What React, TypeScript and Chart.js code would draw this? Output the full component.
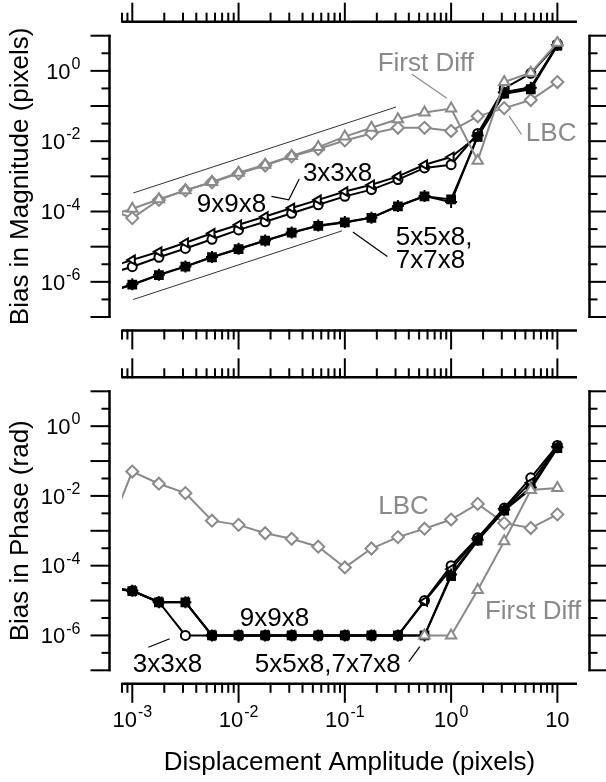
import React, { useEffect, useRef } from "react";
import { Chart, registerables } from "chart.js";

Chart.register(...registerables);

// ---------- data ----------
// Displacement amplitude (pixels). The first point lies just left of the visible axis range.
const amplitude = [0.000562, 0.001, 0.00178, 0.00316, 0.00562, 0.01, 0.0178, 0.0316, 0.0562, 0.1, 0.178, 0.316, 0.562, 1, 1.78, 3.16, 5.62, 10];

// Bias in magnitude (pixels)
const magFirstDiff = [7.1e-5, 1.2e-4, 2.24e-4, 4.0e-4, 6.9e-4, 1.26e-3, 2.14e-3, 3.8e-3, 6.8e-3, 0.0135, 0.024, 0.042, 0.065, 0.085, 0.0028, 0.48, 0.89, 6.3];
const magLBC = [1.26e-4, 6.5e-5, 2.14e-4, 4.0e-4, 6.8e-4, 1.2e-3, 2.04e-3, 3.7e-3, 6.0e-3, 0.0105, 0.0166, 0.024, 0.024, 0.0195, 0.051, 0.087, 0.148, 0.48];
const mag3x3x8 = [1.58e-6, 2.69e-6, 5.0e-6, 8.9e-6, 1.62e-5, 3.0e-5, 5.1e-5, 8.9e-5, 1.55e-4, 2.7e-4, 4.2e-4, 8.1e-4, 1.74e-3, 2.14e-3, 0.0166, 0.316, 0.85, 5.75];
const mag9x9x8 = [2.4e-6, 4.2e-6, 7.2e-6, 1.29e-5, 2.4e-5, 4.2e-5, 7.2e-5, 1.26e-4, 2.14e-4, 3.7e-4, 5.75e-4, 1.0e-3, 2.14e-3, 3.55e-3, 0.0141, 0.25, 0.34, 5.5];
const mag5x5x8 = [4.7e-7, 8.3e-7, 1.55e-6, 2.7e-6, 5.0e-6, 8.5e-6, 1.48e-5, 2.5e-5, 3.9e-5, 4.9e-5, 6.6e-5, 1.41e-4, 2.7e-4, 2.2e-4, 0.0132, 0.224, 0.3, 5.25];
const mag7x7x8 = [4.9e-7, 8.5e-7, 1.6e-6, 2.75e-6, 5.1e-6, 8.7e-6, 1.5e-5, 2.55e-5, 4.0e-5, 5.0e-5, 6.7e-5, 1.43e-4, 2.75e-4, 1.85e-4, 0.0145, 0.24, 0.33, 5.4];

// Slope-one guide lines in the magnitude panel
const guideUpperX = [0.00102, 0.303];
const guideUpperY = [3.36e-4, 0.0936];
const guideLowerX = [0.00102, 0.0938];
const guideLowerY = [3.14e-7, 2.81e-5];

// Bias in phase (rad)
const phFirstDiff = [null, null, null, null, null, null, null, null, null, null, null, null, 1e-6, 1e-6, 2.0e-5, 5.0e-4, 0.0148, 0.017];
const phLBC = [6.3e-4, 0.05, 0.0224, 0.012, 0.00195, 0.00148, 8.5e-4, 5.9e-4, 3.5e-4, 8.9e-5, 3.1e-4, 6.6e-4, 1.15e-3, 2.1e-3, 5.9e-3, 1.66e-3, 1.2e-3, 2.95e-3];
const ph3x3x8 = [2.5e-5, 1.9e-5, 9.1e-6, 1e-6, 1e-6, 1e-6, 1e-6, 1e-6, 1e-6, 1e-6, 1e-6, 1e-6, 1e-5, 1e-4, 6.3e-4, 4.5e-3, 0.033, 0.28];
const ph9x9x8 = [2.5e-5, 1.9e-5, 9.1e-6, 9.1e-6, 1e-6, 1e-6, 1e-6, 1e-6, 1e-6, 1e-6, 1e-6, 1e-6, 9.5e-6, 8e-5, 6e-4, 4.3e-3, 0.024, 0.26];
const ph5x5x8 = [2.4e-5, 1.86e-5, 8.9e-6, 8.9e-6, 1e-6, 1e-6, 1e-6, 1e-6, 1e-6, 1e-6, 1e-6, 1e-6, 1e-6, 5e-5, 5.2e-4, 3.8e-3, 0.0158, 0.234];
const ph7x7x8 = [2.4e-5, 1.9e-5, 9e-6, 9e-6, 1e-6, 1e-6, 1e-6, 1e-6, 1e-6, 1e-6, 1e-6, 1e-6, 1e-6, 5.6e-5, 5.5e-4, 4.0e-3, 0.0174, 0.25];

// Axis ranges and tick labels
const xMin = 0.0008;
const xMax = 15.3;
const yMin = 1e-7;
const yMax = 10;
const xTickLabels = [
  { value: 1e-3, exp: "-3" },
  { value: 1e-2, exp: "-2" },
  { value: 1e-1, exp: "-1" },
  { value: 1, exp: "0" },
  { value: 10, exp: "" },
];
const yTickLabels = [
  { value: 1, exp: "0" },
  { value: 1e-2, exp: "-2" },
  { value: 1e-4, exp: "-4" },
  { value: 1e-6, exp: "-6" },
];

// Annotations (data coordinates)
const magNotes = [
  { text: "First Diff", x: 0.578, y: 1.0, align: "center", gray: true },
  { text: "LBC", x: 5.05, y: 0.0098, align: "left", gray: true },
  { text: "3x3x8", x: 0.0403, y: 7.2e-4, align: "left", gray: false },
  { text: "9x9x8", x: 0.00405, y: 1e-4, align: "left", gray: false },
  { text: "5x5x8,", x: 0.302, y: 1.12e-5, align: "left", gray: false },
  { text: "7x7x8", x: 0.302, y: 2.46e-6, align: "left", gray: false },
];
const magLeaders = [
  { gray: true, pts: [[0.428, 0.805], [0.912, 0.166]] },
  { gray: true, pts: [[4.6, 0.0155], [3.52, 0.0518]] },
  { gray: false, pts: [[0.0204, 2.68e-4], [0.0297, 2.16e-4], [0.0372, 8.4e-4]] },
  { gray: false, pts: [[0.119, 2.63e-5], [0.251, 5.25e-6]] },
];
const phNotes = [
  { text: "LBC", x: 0.206, y: 3.0e-3, align: "left", gray: true },
  { text: "First Diff", x: 2.08, y: 2.95e-6, align: "left", gray: true },
  { text: "9x9x8", x: 0.01028, y: 1.9e-6, align: "left", gray: false },
  { text: "3x3x8", x: 0.00101, y: 9.1e-8, align: "left", gray: false },
  { text: "5x5x8,7x7x8", x: 0.01422, y: 9.1e-8, align: "left", gray: false },
];
const phLeaders = [
  { gray: false, pts: [[0.001416, 4.6e-7], [0.00225, 8.0e-7]] },
  { gray: false, pts: [[0.4, 1.78e-7], [0.508, 4.8e-7]] },
];

// ---------- styling ----------
const FONT = '"Liberation Sans", Arial, Helvetica, sans-serif';
const GRAY = "#8a8a8a";
const TICK_FONT = 22;
const SUP_FONT = 16;
const SUP_RAISE = 9.5;
const NOTE_FONT = 26;
const TITLE_FONT = 26;

function pts(xs: number[], ys: (number | null)[]) {
  return xs.map((x, i) => ({ x, y: ys[i] }));
}

function seriesSets(firstDiff, lbc, s3, s9, s5, s7) {
  const base = { borderWidth: 2, tension: 0, pointBorderWidth: 2, pointHoverRadius: 0, spanGaps: false };
  return [
    { ...base, label: "First Diff", data: pts(amplitude, firstDiff), borderColor: GRAY, pointStyle: "triangle", pointRadius: 6, pointBorderColor: GRAY, pointBackgroundColor: "#fff" },
    { ...base, label: "7x7x8", data: pts(amplitude, s7), borderColor: "#000", pointStyle: "cross", pointRadius: 6, pointBorderColor: "#000", pointBackgroundColor: "#000" },
    { ...base, label: "5x5x8", data: pts(amplitude, s5), borderColor: "#000", pointStyle: "rect", pointRadius: 5.5, pointBorderColor: "#000", pointBackgroundColor: "#000" },
    { ...base, label: "9x9x8", data: pts(amplitude, s9), borderColor: "#000", pointStyle: "triangle", pointRotation: -90, pointRadius: 5, pointBorderColor: "#000", pointBackgroundColor: "#fff" },
    { ...base, label: "3x3x8", data: pts(amplitude, s3), borderColor: "#000", pointStyle: "circle", pointRadius: 4.5, pointBorderColor: "#000", pointBackgroundColor: "#fff" },
    { ...base, label: "LBC", data: pts(amplitude, lbc), borderColor: GRAY, pointStyle: "rectRot", pointRadius: 6, pointBorderColor: GRAY, pointBackgroundColor: "#fff" },
  ];
}

function guideSet(xs: number[], ys: number[]) {
  return { label: "guide", data: pts(xs, ys), borderColor: "#333", borderWidth: 1, pointRadius: 0, pointHoverRadius: 0, tension: 0 };
}

function drawPow(ctx, x, baseline, exp, align) {
  ctx.font = `${TICK_FONT}px ${FONT}`;
  const w1 = ctx.measureText("10").width;
  let w2 = 0;
  if (exp) {
    ctx.font = `${SUP_FONT}px ${FONT}`;
    w2 = ctx.measureText(exp).width + 1;
  }
  const total = w1 + w2;
  const x0 = align === "right" ? x - total : x - total / 2;
  ctx.textAlign = "left";
  ctx.textBaseline = "alphabetic";
  ctx.font = `${TICK_FONT}px ${FONT}`;
  ctx.fillText("10", x0, baseline);
  if (exp) {
    ctx.font = `${SUP_FONT}px ${FONT}`;
    ctx.fillText(exp, x0 + w1 + 1, baseline - SUP_RAISE);
  }
}

function xTickValues() {
  const out: { v: number; major: boolean }[] = [];
  for (let e = -4; e <= 1; e++) {
    for (let m = 1; m <= 9; m++) {
      const v = m * Math.pow(10, e);
      if (v >= xMin * 0.999 && v <= xMax) out.push({ v, major: m === 1 });
    }
  }
  return out;
}

function makeAxesPlugin(panel) {
  return {
    id: "panelAxes",
    afterDraw(chart) {
      const ctx = chart.ctx;
      const { left, right, top, bottom } = chart.chartArea;
      const xs = chart.scales.x;
      const ys = chart.scales.y;
      ctx.save();
      ctx.strokeStyle = "#000";
      ctx.fillStyle = "#000";
      ctx.lineCap = "butt";

      const seg = (x1, y1, x2, y2, w) => {
        ctx.lineWidth = w;
        ctx.beginPath();
        ctx.moveTo(x1, y1);
        ctx.lineTo(x2, y2);
        ctx.stroke();
      };

      // vertical axes, detached from the plot area
      const yl = left - 12.5;
      const yr = right + 12.5;
      seg(yl, top - 1, yl, bottom + 1, 2.5);
      seg(yr, top - 1, yr, bottom + 1, 2.5);
      for (let h = -14; h <= 2; h++) {
        const py = ys.getPixelForValue(Math.pow(10, h / 2));
        const len = h % 2 === 0 ? 19 : 8;
        seg(yl - len, py, yl + 1, py, 2);
        seg(yr - 1, py, yr + len, py, 2);
      }

      // horizontal axes above and below
      const xt = top - 14;
      const xb = bottom + 13.5;
      seg(left, xt, right, xt, 2.5);
      seg(left, xb, right, xb, 2.5);
      for (const t of xTickValues()) {
        const px = xs.getPixelForValue(t.v);
        const len = t.major ? 19 : 9;
        seg(px, xt + 1, px, xt - len, 2);
        seg(px, xb - 1, px, xb + len, 2);
      }

      // tick labels
      for (const t of yTickLabels) {
        const py = ys.getPixelForValue(t.value);
        drawPow(ctx, yl - 29, py + 7.7, t.exp, "right");
      }
      if (panel.xLabels) {
        for (const t of xTickLabels) {
          const px = xs.getPixelForValue(t.value);
          drawPow(ctx, px, xb + 43, t.exp, "center");
        }
        ctx.font = `${TITLE_FONT}px ${FONT}`;
        ctx.textAlign = "center";
        ctx.textBaseline = "alphabetic";
        ctx.fillText(panel.xTitle, (left + right) / 2, xb + 86);
      }

      // y title
      ctx.save();
      ctx.translate(21, (top + bottom) / 2);
      ctx.rotate(-Math.PI / 2);
      ctx.font = `${TITLE_FONT}px ${FONT}`;
      ctx.textAlign = "center";
      ctx.textBaseline = "middle";
      ctx.fillText(panel.yTitle, 0, 0);
      ctx.restore();

      // leaders
      for (const l of panel.leaders) {
        ctx.strokeStyle = l.gray ? GRAY : "#000";
        ctx.lineWidth = 1.2;
        ctx.beginPath();
        l.pts.forEach((p, i) => {
          const px = xs.getPixelForValue(p[0]);
          const py = ys.getPixelForValue(p[1]);
          if (i === 0) ctx.moveTo(px, py);
          else ctx.lineTo(px, py);
        });
        ctx.stroke();
      }
      // notes
      ctx.font = `${NOTE_FONT}px ${FONT}`;
      ctx.textBaseline = "alphabetic";
      for (const n of panel.notes) {
        ctx.fillStyle = n.gray ? GRAY : "#000";
        ctx.textAlign = n.align;
        ctx.fillText(n.text, xs.getPixelForValue(n.x), ys.getPixelForValue(n.y));
      }
      ctx.restore();
    },
  };
}

function makeConfig(panel) {
  return {
    type: "line",
    data: { datasets: panel.datasets },
    options: {
      responsive: false,
      maintainAspectRatio: false,
      animation: false,
      devicePixelRatio: 1,
      events: [],
      layout: { padding: { left: 122, right: 606 - 577, top: panel.top, bottom: 782 - panel.bottom } },
      plugins: { legend: { display: false }, title: { display: false }, tooltip: { enabled: false } },
      scales: {
        x: { type: "logarithmic", min: xMin, max: xMax, bounds: "data", display: false },
        y: { type: "logarithmic", min: yMin, max: yMax, bounds: "data", display: false },
      },
    },
    plugins: [makeAxesPlugin(panel)],
  };
}

export default function App() {
  const topRef = useRef<HTMLCanvasElement>(null);
  const botRef = useRef<HTMLCanvasElement>(null);

  useEffect(() => {
    const magPanel = {
      top: 35.7,
      bottom: 317,
      yTitle: "Bias in Magnitude (pixels)",
      xLabels: false,
      xTitle: "",
      notes: magNotes,
      leaders: magLeaders,
      datasets: [
        ...seriesSets(magFirstDiff, magLBC, mag3x3x8, mag9x9x8, mag5x5x8, mag7x7x8),
        guideSet(guideUpperX, guideUpperY),
        guideSet(guideLowerX, guideLowerY),
      ],
    };
    const phPanel = {
      top: 391.3,
      bottom: 670.3,
      yTitle: "Bias in Phase (rad)",
      xLabels: true,
      xTitle: "Displacement Amplitude (pixels)",
      notes: phNotes,
      leaders: phLeaders,
      datasets: seriesSets(phFirstDiff, phLBC, ph3x3x8, ph9x9x8, ph5x5x8, ph7x7x8),
    };
    const c1 = new Chart(topRef.current as HTMLCanvasElement, makeConfig(magPanel) as any);
    const c2 = new Chart(botRef.current as HTMLCanvasElement, makeConfig(phPanel) as any);
    return () => {
      c1.destroy();
      c2.destroy();
    };
  }, []);

  return (
    <div style={{ position: "absolute", left: 0, top: 0, width: 606, height: 782, background: "#fff" }}>
      <canvas ref={topRef} width={606} height={782} style={{ position: "absolute", left: 0, top: 0 }} />
      <canvas ref={botRef} width={606} height={782} style={{ position: "absolute", left: 0, top: 0 }} />
    </div>
  );
}
